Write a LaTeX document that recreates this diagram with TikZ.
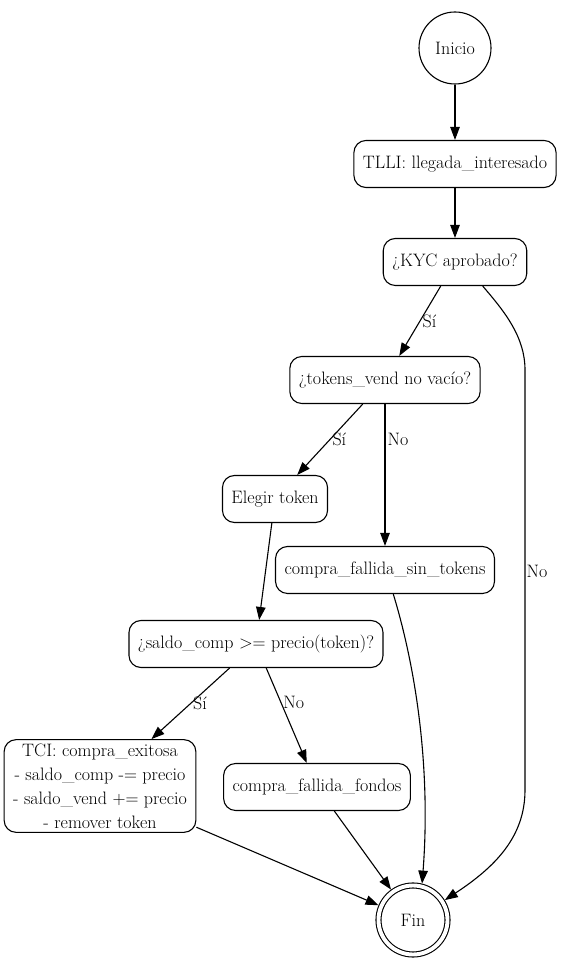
\documentclass[tikz,border=0pt]{standalone}
\usepackage{fontspec}
\usetikzlibrary{arrows.meta, shapes.geometric}

\begin{document}
\begin{tikzpicture}[
  x=1pt, y=1pt,
  every node/.style={font=\rmfamily\fontsize{18}{24}\selectfont},
  state/.style={rectangle, rounded corners=12pt,
    draw, line width=1.1pt, align=center,
    inner xsep=9pt, inner ysep=4pt,
    minimum height=47pt},
  terminal/.style={circle, draw, line width=1.1pt,
    minimum size=72pt, inner sep=0pt},
  arrow/.style={-{Triangle[length=13pt, width=9.5pt]}, line width=1.1pt},
  lbl/.style={inner sep=2pt}
]
\useasboundingbox (0,0) rectangle (564,962);

% Start and registration
\node[terminal] (inicio) at (455,914) {Inicio};
\node[state] (tlli) at (455,798) {TLLI: llegada\_interesado};
\node[state] (kyc) at (455,700) {¿KYC aprobado?};

% Token checks
\node[state] (tokens) at (385,582) {¿tokens\_vend no vacío?};
\node[state] (elegir) at (275,463) {Elegir token};
\node[state] (sintok) at (385,392) {compra\_fallida\_sin\_tokens};
\node[state] (saldo) at (256,318) {¿saldo\_comp >= precio(token)?};

% Outcomes
\node[state] (tci) at (100,176)
  {TCI: compra\_exitosa\\- saldo\_comp -= precio\\- saldo\_vend += precio\\- remover token};
\node[state] (fondos) at (317,175) {compra\_fallida\_fondos};
\node[terminal, double, double distance=3.9pt,
      minimum size=69pt, outer sep=3pt] (fin) at (413,42) {Fin};

\draw[arrow] (inicio) -- (tlli);
\draw[arrow] (tlli) -- (kyc);
\draw[arrow] (kyc) -- node[lbl, right] {Sí} (tokens);
\draw[arrow] (kyc.-41) .. controls (505,650) and (525,625) .. (525,592)
  -- node[inner sep=1pt, right, pos=0.48] {No} (525,172)
  .. controls (525,125) and (495,95) .. (fin.32);

\draw[arrow] (tokens) -- node[lbl, right] {Sí} (elegir);
\draw[arrow] (tokens.south) -- node[lbl, right, pos=0.25] {No} (sintok.north);
\draw[arrow] (elegir) -- (saldo);

\draw[arrow] (saldo) -- node[lbl, right] {Sí} (tci);
\draw[arrow] (saldo) -- node[lbl, right, pos=0.36] {No} (fondos);

\draw[arrow] (sintok.-71) .. controls (420,280) and (430,180) .. (fin.76);
\draw[arrow] (fondos) -- (fin);
\draw[arrow] (tci) -- (fin);
\end{tikzpicture}
\end{document}
